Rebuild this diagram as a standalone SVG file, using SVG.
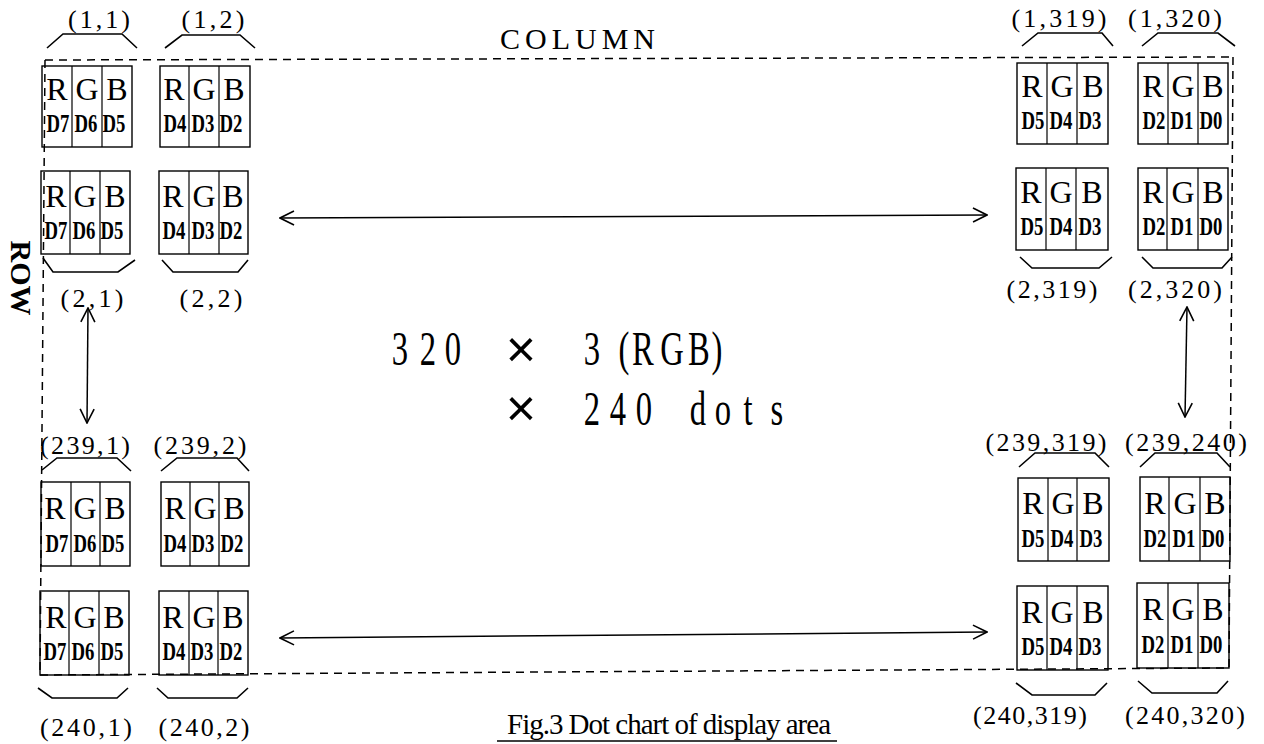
<svg xmlns="http://www.w3.org/2000/svg" width="1264" height="744" viewBox="0 0 1264 744">
<style>
.bg{fill:#fff}
.box{fill:none;stroke:#000;stroke-width:1.4}
.div{stroke:#000;stroke-width:1.2}
.rgb{font-family:"Liberation Serif",serif;font-size:32px;text-anchor:middle;fill:#000}
.dn{font-family:"Liberation Serif",serif;font-weight:bold;font-size:26px;text-anchor:middle;fill:#000}
.lbl{font-family:"Liberation Serif",serif;font-size:26px;text-anchor:middle;fill:#000}
.br{fill:none;stroke:#000;stroke-width:1.6}
.dash{fill:none;stroke:#000;stroke-width:1.5;stroke-dasharray:8 6}
.arr{fill:none;stroke:#000;stroke-width:1.5;marker-start:url(#ah);marker-end:url(#ah)}
.big{font-family:"Liberation Serif",serif;font-size:48px;text-anchor:middle;fill:#000}
.times{font-family:"Liberation Sans",sans-serif;font-size:52px;text-anchor:middle;fill:#000}
.ttl{font-family:"Liberation Serif",serif;fill:#000}
</style>
<defs>
<marker id="ah" viewBox="0 0 16 16" refX="15" refY="8" markerWidth="16" markerHeight="16" markerUnits="userSpaceOnUse" orient="auto-start-reverse">
<path d="M1,1 L15,8 L1,15" fill="none" stroke="#000" stroke-width="1.6"/>
</marker>
</defs>
<rect class="bg" x="0" y="0" width="1264" height="744"/>

<g id="frame">
<line class="dash" x1="45" y1="60" x2="1233" y2="57"/>
<line class="dash" x1="1233" y1="57" x2="1229" y2="668"/>
<line class="dash" x1="40" y1="675" x2="1229" y2="668"/>
<line class="dash" x1="45" y1="60" x2="40" y2="675"/>
</g>

<g id="titles">
<text class="ttl" x="500" y="49" font-size="30" textLength="155" lengthAdjust="spacing">COLUMN</text>
<text class="ttl" font-size="30" font-weight="bold" text-anchor="middle" transform="translate(11,278) rotate(90)">ROW</text>
<text class="ttl" x="507" y="734" font-size="29" textLength="324" lengthAdjust="spacing">Fig.3 Dot chart of display area</text>
<line x1="497" y1="741" x2="837" y2="741" stroke="#000" stroke-width="1.6"/>
</g>

<g id="formula">
<text class="big" transform="scale(0.68 1)" x="588.2 629.4 666.2" y="365">320</text>
<text class="times" x="521" y="367">×</text>
<text class="big" transform="scale(0.68 1)" x="870.6 917.6 945.6 988.2 1027.9 1054.4" y="365">3(RGB)</text>
<text class="times" x="521" y="426">×</text>
<text class="big" transform="scale(0.68 1)" x="870.6 908.8 947.1" y="425">240</text>
<text class="big" transform="scale(0.68 1)" x="1026.5 1063.2 1100 1142.6" y="425">dots</text>
</g>

<g id="cell-1-1" transform="translate(42,66)">
<rect class="box" x="0" y="0" width="90" height="81"/><line class="div" x1="30" y1="0" x2="30" y2="81"/><line class="div" x1="60" y1="0" x2="60" y2="81"/>
<text class="rgb" x="15" y="34">R</text><text class="rgb" x="45" y="34">G</text><text class="rgb" x="75" y="34">B</text>
<text class="dn" transform="translate(16,66) scale(0.72 1)">D7</text><text class="dn" transform="translate(44,66) scale(0.72 1)">D6</text><text class="dn" transform="translate(72,66) scale(0.72 1)">D5</text>
</g>
<g id="cell-1-2" transform="translate(160,66)">
<rect class="box" x="0" y="0" width="90" height="81"/><line class="div" x1="29" y1="0" x2="29" y2="81"/><line class="div" x1="59" y1="0" x2="59" y2="81"/>
<text class="rgb" x="14" y="34">R</text><text class="rgb" x="44" y="34">G</text><text class="rgb" x="74" y="34">B</text>
<text class="dn" transform="translate(15,66) scale(0.72 1)">D4</text><text class="dn" transform="translate(43,66) scale(0.72 1)">D3</text><text class="dn" transform="translate(71,66) scale(0.72 1)">D2</text>
</g>
<g id="cell-1-319" transform="translate(1017,63)">
<rect class="box" x="0" y="0" width="91" height="81"/><line class="div" x1="30" y1="0" x2="30" y2="81"/><line class="div" x1="60" y1="0" x2="60" y2="81"/>
<text class="rgb" x="15" y="34">R</text><text class="rgb" x="45" y="34">G</text><text class="rgb" x="76" y="34">B</text>
<text class="dn" transform="translate(16,66) scale(0.72 1)">D5</text><text class="dn" transform="translate(44,66) scale(0.72 1)">D4</text><text class="dn" transform="translate(73,66) scale(0.72 1)">D3</text>
</g>
<g id="cell-1-320" transform="translate(1138,63)">
<rect class="box" x="0" y="0" width="90" height="81"/><line class="div" x1="30" y1="0" x2="30" y2="81"/><line class="div" x1="60" y1="0" x2="60" y2="81"/>
<text class="rgb" x="15" y="34">R</text><text class="rgb" x="45" y="34">G</text><text class="rgb" x="75" y="34">B</text>
<text class="dn" transform="translate(16,66) scale(0.72 1)">D2</text><text class="dn" transform="translate(44,66) scale(0.72 1)">D1</text><text class="dn" transform="translate(73,66) scale(0.72 1)">D0</text>
</g>

<g id="cell-2-1" transform="translate(41,171)">
<rect class="box" x="0" y="0" width="89" height="83"/><line class="div" x1="29" y1="0" x2="29" y2="83"/><line class="div" x1="59" y1="0" x2="59" y2="83"/>
<text class="rgb" x="15" y="36">R</text><text class="rgb" x="44" y="36">G</text><text class="rgb" x="74" y="36">B</text>
<text class="dn" transform="translate(15,68) scale(0.72 1)">D7</text><text class="dn" transform="translate(43,68) scale(0.72 1)">D6</text><text class="dn" transform="translate(71,68) scale(0.72 1)">D5</text>
</g>
<g id="cell-2-2" transform="translate(159,171)">
<rect class="box" x="0" y="0" width="89" height="83"/><line class="div" x1="30" y1="0" x2="30" y2="83"/><line class="div" x1="60" y1="0" x2="60" y2="83"/>
<text class="rgb" x="14" y="36">R</text><text class="rgb" x="45" y="36">G</text><text class="rgb" x="74" y="36">B</text>
<text class="dn" transform="translate(15,68) scale(0.72 1)">D4</text><text class="dn" transform="translate(44,68) scale(0.72 1)">D3</text><text class="dn" transform="translate(72,68) scale(0.72 1)">D2</text>
</g>
<g id="cell-2-319" transform="translate(1016,168)">
<rect class="box" x="0" y="0" width="92" height="82"/><line class="div" x1="30" y1="0" x2="30" y2="82"/><line class="div" x1="60" y1="0" x2="60" y2="82"/>
<text class="rgb" x="15" y="35">R</text><text class="rgb" x="45" y="35">G</text><text class="rgb" x="76" y="35">B</text>
<text class="dn" transform="translate(16,67) scale(0.72 1)">D5</text><text class="dn" transform="translate(45,67) scale(0.72 1)">D4</text><text class="dn" transform="translate(74,67) scale(0.72 1)">D3</text>
</g>
<g id="cell-2-320" transform="translate(1138,168)">
<rect class="box" x="0" y="0" width="90" height="82"/><line class="div" x1="29" y1="0" x2="29" y2="82"/><line class="div" x1="60" y1="0" x2="60" y2="82"/>
<text class="rgb" x="15" y="35">R</text><text class="rgb" x="45" y="35">G</text><text class="rgb" x="75" y="35">B</text>
<text class="dn" transform="translate(16,67) scale(0.72 1)">D2</text><text class="dn" transform="translate(44,67) scale(0.72 1)">D1</text><text class="dn" transform="translate(73,67) scale(0.72 1)">D0</text>
</g>

<g id="cell-239-1" transform="translate(41,482)">
<rect class="box" x="0" y="0" width="89" height="84"/><line class="div" x1="30" y1="0" x2="30" y2="84"/><line class="div" x1="59" y1="0" x2="59" y2="84"/>
<text class="rgb" x="14" y="37">R</text><text class="rgb" x="44" y="37">G</text><text class="rgb" x="74" y="37">B</text>
<text class="dn" transform="translate(16,70) scale(0.72 1)">D7</text><text class="dn" transform="translate(44,70) scale(0.72 1)">D6</text><text class="dn" transform="translate(72,70) scale(0.72 1)">D5</text>
</g>
<g id="cell-239-2" transform="translate(161,482)">
<rect class="box" x="0" y="0" width="88" height="84"/><line class="div" x1="29" y1="0" x2="29" y2="84"/><line class="div" x1="58" y1="0" x2="58" y2="84"/>
<text class="rgb" x="14" y="37">R</text><text class="rgb" x="44" y="37">G</text><text class="rgb" x="73" y="37">B</text>
<text class="dn" transform="translate(14,70) scale(0.72 1)">D4</text><text class="dn" transform="translate(42,70) scale(0.72 1)">D3</text><text class="dn" transform="translate(71,70) scale(0.72 1)">D2</text>
</g>
<g id="cell-239-319" transform="translate(1018,478)">
<rect class="box" x="0" y="0" width="91" height="83"/><line class="div" x1="30" y1="0" x2="30" y2="83"/><line class="div" x1="59" y1="0" x2="59" y2="83"/>
<text class="rgb" x="15" y="36">R</text><text class="rgb" x="45" y="36">G</text><text class="rgb" x="75" y="36">B</text>
<text class="dn" transform="translate(15,69) scale(0.72 1)">D5</text><text class="dn" transform="translate(44,69) scale(0.72 1)">D4</text><text class="dn" transform="translate(73,69) scale(0.72 1)">D3</text>
</g>
<g id="cell-239-240" transform="translate(1140,477)">
<rect class="box" x="0" y="0" width="90" height="84"/><line class="div" x1="29" y1="0" x2="29" y2="84"/><line class="div" x1="60" y1="0" x2="60" y2="84"/>
<text class="rgb" x="15" y="37">R</text><text class="rgb" x="45" y="37">G</text><text class="rgb" x="75" y="37">B</text>
<text class="dn" transform="translate(15,70) scale(0.72 1)">D2</text><text class="dn" transform="translate(44,70) scale(0.72 1)">D1</text><text class="dn" transform="translate(73,70) scale(0.72 1)">D0</text>
</g>

<g id="cell-240-1" transform="translate(40,591)">
<rect class="box" x="0" y="0" width="89" height="84"/><line class="div" x1="29" y1="0" x2="29" y2="84"/><line class="div" x1="59" y1="0" x2="59" y2="84"/>
<text class="rgb" x="16" y="37">R</text><text class="rgb" x="45" y="37">G</text><text class="rgb" x="74" y="37">B</text>
<text class="dn" transform="translate(15,69) scale(0.72 1)">D7</text><text class="dn" transform="translate(43,69) scale(0.72 1)">D6</text><text class="dn" transform="translate(72,69) scale(0.72 1)">D5</text>
</g>
<g id="cell-240-2" transform="translate(159,591)">
<rect class="box" x="0" y="0" width="89" height="84"/><line class="div" x1="30" y1="0" x2="30" y2="84"/><line class="div" x1="59" y1="0" x2="59" y2="84"/>
<text class="rgb" x="14" y="37">R</text><text class="rgb" x="45" y="37">G</text><text class="rgb" x="74" y="37">B</text>
<text class="dn" transform="translate(15,69) scale(0.72 1)">D4</text><text class="dn" transform="translate(43,69) scale(0.72 1)">D3</text><text class="dn" transform="translate(72,69) scale(0.72 1)">D2</text>
</g>
<g id="cell-240-319" transform="translate(1017,586)">
<rect class="box" x="0" y="0" width="91" height="84"/><line class="div" x1="30" y1="0" x2="30" y2="84"/><line class="div" x1="60" y1="0" x2="60" y2="84"/>
<text class="rgb" x="15" y="37">R</text><text class="rgb" x="45" y="37">G</text><text class="rgb" x="76" y="37">B</text>
<text class="dn" transform="translate(16,69) scale(0.72 1)">D5</text><text class="dn" transform="translate(44,69) scale(0.72 1)">D4</text><text class="dn" transform="translate(73,69) scale(0.72 1)">D3</text>
</g>
<g id="cell-240-320" transform="translate(1137,583)">
<rect class="box" x="0" y="0" width="92" height="85"/><line class="div" x1="31" y1="0" x2="31" y2="85"/><line class="div" x1="61" y1="0" x2="61" y2="85"/>
<text class="rgb" x="16" y="37">R</text><text class="rgb" x="46" y="37">G</text><text class="rgb" x="76" y="37">B</text>
<text class="dn" transform="translate(16,70) scale(0.72 1)">D2</text><text class="dn" transform="translate(45,70) scale(0.72 1)">D1</text><text class="dn" transform="translate(74,70) scale(0.72 1)">D0</text>
</g>

<g id="labels">
<text class="lbl" x="99" y="28" textLength="62" lengthAdjust="spacing">(1,1)</text>
<text class="lbl" x="213" y="28" textLength="63" lengthAdjust="spacing">(1,2)</text>
<text class="lbl" x="1059" y="27" textLength="95" lengthAdjust="spacing">(1,319)</text>
<text class="lbl" x="1175" y="27" textLength="94" lengthAdjust="spacing">(1,320)</text>
<text class="lbl" x="92" y="307" textLength="63" lengthAdjust="spacing">(2,1)</text>
<text class="lbl" x="211" y="307" textLength="63" lengthAdjust="spacing">(2,2)</text>
<text class="lbl" x="1052" y="298" textLength="91" lengthAdjust="spacing">(2,319)</text>
<text class="lbl" x="1175" y="298" textLength="94" lengthAdjust="spacing">(2,320)</text>
<text class="lbl" x="85" y="454" textLength="90" lengthAdjust="spacing">(239,1)</text>
<text class="lbl" x="200" y="454" textLength="93" lengthAdjust="spacing">(239,2)</text>
<text class="lbl" x="1046" y="451" textLength="121" lengthAdjust="spacing">(239,319)</text>
<text class="lbl" x="1186" y="451" textLength="122" lengthAdjust="spacing">(239,240)</text>
<text class="lbl" x="86" y="736" textLength="92" lengthAdjust="spacing">(240,1)</text>
<text class="lbl" x="204" y="736" textLength="91" lengthAdjust="spacing">(240,2)</text>
<text class="lbl" x="1030" y="724" textLength="114" lengthAdjust="spacing">(240,319)</text>
<text class="lbl" x="1185" y="724" textLength="120" lengthAdjust="spacing">(240,320)</text>
</g>

<g id="brackets">
<polyline class="br" points="47,48 63,34 122,34 137,48"/>
<polyline class="br" points="165,48 182,35 240,35 255,48"/>
<polyline class="br" points="1022,46 1038,33 1102,33 1113,46"/>
<polyline class="br" points="1142,46 1158,33 1218,33 1235,46"/>
<polyline class="br" points="43,258 53,272 118,272 135,260"/>
<polyline class="br" points="162,260 173,272 238,272 248,260"/>
<polyline class="br" points="1020,257 1032,268 1099,268 1112,257"/>
<polyline class="br" points="1142,257 1153,268 1222,268 1232,257"/>
<polyline class="br" points="42,470 57,458 117,458 131,471"/>
<polyline class="br" points="161,471 177,458 237,458 249,471"/>
<polyline class="br" points="1019,467 1035,453 1095,453 1109,467"/>
<polyline class="br" points="1140,467 1155,453 1217,453 1230,467"/>
<polyline class="br" points="38,688 52,698 117,698 128,688"/>
<polyline class="br" points="157,688 168,698 237,698 248,688"/>
<polyline class="br" points="1016,683 1032,695 1095,695 1107,683"/>
<polyline class="br" points="1138,681 1152,693 1217,693 1228,681"/>
</g>

<g id="connectors">
<line class="arr" x1="280" y1="218" x2="987" y2="215"/>
<line class="arr" x1="280" y1="638" x2="987" y2="632"/>
<line class="arr" x1="88" y1="308" x2="87" y2="423"/>
<line class="arr" x1="1187" y1="307" x2="1185" y2="417"/>
</g>
</svg>
